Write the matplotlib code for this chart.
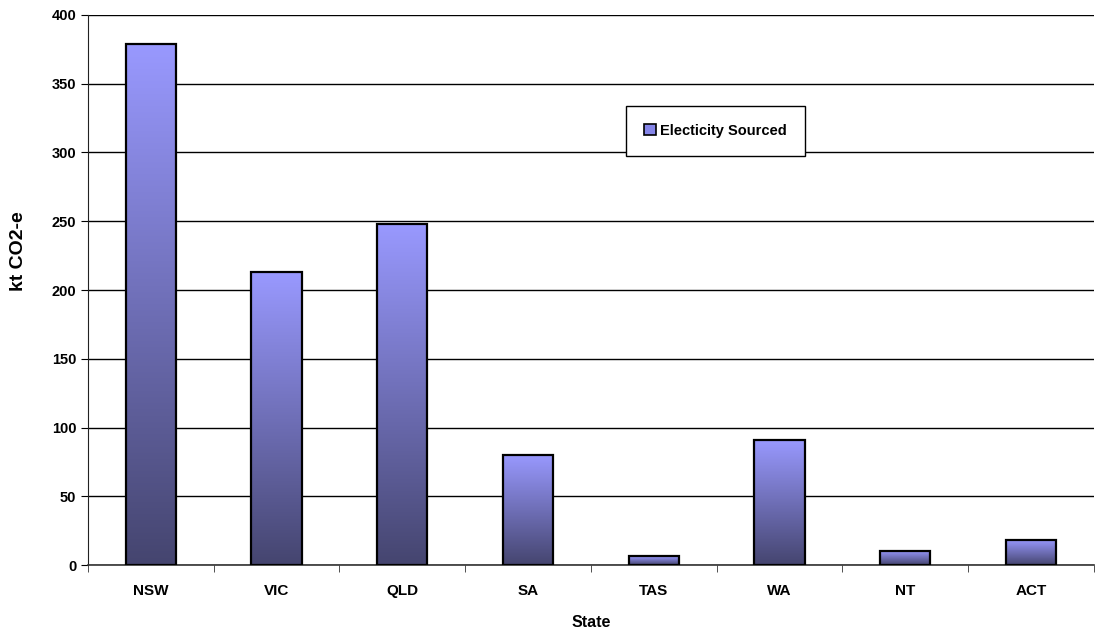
import numpy as np
import matplotlib.pyplot as plt
from matplotlib.colors import LinearSegmentedColormap
from matplotlib.patches import Patch

plt.rcParams['font.family'] = ['Liberation Sans', 'DejaVu Sans']

states = ["NSW", "VIC", "QLD", "SA", "TAS", "WA", "NT", "ACT"]
emissions = [379, 213, 248, 80, 6.5, 91, 10.5, 18.5]
series_name = "Electicity Sourced"

# light at the top of each bar, dark at the base
grad = LinearSegmentedColormap.from_list("bar", ["#45456F", "#9999FF"])

fig = plt.figure(figsize=(10.96, 6.35), dpi=100)
ax = fig.add_axes([0.0803, 0.1102, 0.9177, 0.8662])

x = np.arange(len(states))
width = 0.4
ramp = np.linspace(0, 1, 256).reshape(-1, 1)
for xi, val in zip(x, emissions):
    ax.imshow(ramp, cmap=grad, origin="lower", aspect="auto",
              extent=[xi - width / 2, xi + width / 2, 0, val], zorder=3)
    ax.bar(xi, val, width=width, facecolor="none", edgecolor="black",
           linewidth=1.6, zorder=4)

ax.set_xlim(-0.5, len(states) - 0.5)
ax.set_ylim(0, 400)
ax.set_yticks(np.arange(0, 401, 50))
ax.yaxis.grid(True, color="black", linewidth=1)
ax.set_axisbelow(True)

ax.set_xticks(x)
ax.set_xticklabels(states, fontsize=11, fontweight="bold")
ax.set_xticks(np.arange(-0.5, len(states)), minor=True)
ax.tick_params(axis="x", which="major", length=0, pad=14)
ax.tick_params(axis="x", which="minor", length=5, direction="out", color="#333333")
ax.tick_params(axis="y", length=5, direction="out", labelsize=10.5)
for lab in ax.get_yticklabels():
    lab.set_fontweight("bold")

for s in ["top", "right"]:
    ax.spines[s].set_visible(False)
ax.spines["left"].set_color("#222222")
ax.spines["bottom"].set_color("#333333")
ax.spines["bottom"].set_linewidth(1.2)

ax.set_xlabel("State", fontsize=11.5, fontweight="bold")
ax.xaxis.set_label_coords(0.5, -0.091)
ax.set_ylabel("kt CO2-e", fontsize=14, fontweight="bold")
ax.yaxis.set_label_coords(-0.061, 0.57)

handle = Patch(facecolor="#8585E8", edgecolor="black", linewidth=1.2)
leg = ax.legend([handle], [series_name], loc="upper left",
                bbox_to_anchor=(0.535, 0.835), fancybox=False,
                frameon=True, edgecolor="black", framealpha=1,
                prop={"weight": "bold", "size": 10.5},
                borderpad=1.25, handlelength=0.8, handleheight=0.8,
                handletextpad=0.25, borderaxespad=0)
leg.get_frame().set_linewidth(1)

fig.savefig("out.png", dpi=100)
